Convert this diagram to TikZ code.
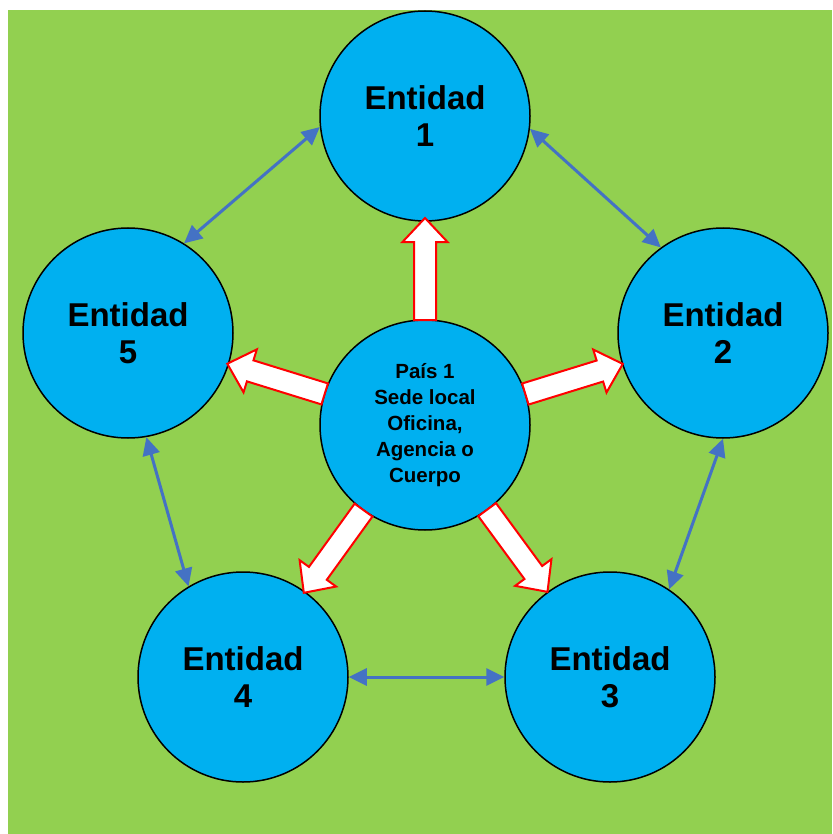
\documentclass[tikz,border=0pt]{standalone}
\usepackage{fontspec}
\setmainfont{Liberation Sans}
\usetikzlibrary{calc,arrows.meta}
\definecolor{grass}{RGB}{146,208,80}
\definecolor{sky}{RGB}{0,176,240}
\definecolor{link}{RGB}{68,114,196}
\tikzset{ent/.style = {circle, line width=1.5pt, minimum size=210pt, inner sep=0pt, draw, fill=sky,
                       align=center, font=\bfseries\fontsize{33}{37}\selectfont},
         hq/.style = {ent, font=\bfseries\fontsize{20.5}{26}\selectfont},
         fat/.style = {draw=red, fill=white, line width=2pt, line join=miter},
         lk/.style = {draw=link, line width=3pt}}
% block arrow from the border of #1 to the border of #2
\newcommand{\fatarrow}[2]{%
  \draw[fat] ($(#1.center)!105pt!(#2.center)!11pt!90:(#2.center)$)
          -- ($(#1.center)!183pt!(#2.center)!11pt!90:(#2.center)$)
          -- ($(#1.center)!183pt!(#2.center)!22.5pt!90:(#2.center)$)
          -- ($(#1.center)!207pt!(#2.center)$)
          -- ($(#1.center)!183pt!(#2.center)!22.5pt!-90:(#2.center)$)
          -- ($(#1.center)!183pt!(#2.center)!11pt!-90:(#2.center)$)
          -- ($(#1.center)!105pt!(#2.center)!11pt!-90:(#2.center)$) -- cycle;}
\begin{document}
\begin{tikzpicture}[x=1pt, y=-1pt, >={Triangle[length=18pt, width=17pt]}]
    \fill[white] (0,0) rectangle (832,834);
    \fill[grass] (8,10) rectangle (832,834);
    \node[hq]  (c)  at (425,425) {País 1\\Sede local\\Oficina,\\Agencia o\\Cuerpo};
    \node[ent] (e1) at (425,116) {Entidad\\1};
    \node[ent] (e2) at (723,333) {Entidad\\2};
    \node[ent] (e3) at (610,677) {Entidad\\3};
    \node[ent] (e4) at (243,677) {Entidad\\4};
    \node[ent] (e5) at (128,333) {Entidad\\5};
    \fatarrow{c}{e1}
    \fatarrow{c}{e2}
    \fatarrow{c}{e3}
    \fatarrow{c}{e4}
    \fatarrow{c}{e5}
    \draw[lk, <->] (e1.-7)  -- (e2.126);
    \draw[lk, <->] (e1.186) -- (e5.58);
    \draw[lk, <->] (e2.-90) -- (e3.56);
    \draw[lk, <->] (e5.-80) -- (e4.121);
    \draw[lk, <->] (e4.0)   -- (e3.180);
\end{tikzpicture}
\end{document}
